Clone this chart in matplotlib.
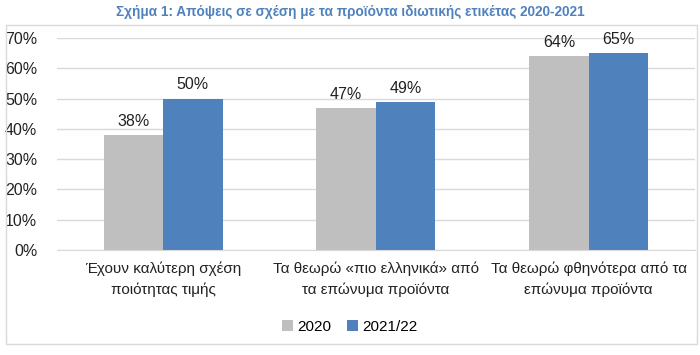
import numpy as np
import matplotlib.pyplot as plt

plt.rcParams['font.family'] = ['Liberation Sans', 'DejaVu Sans']

categories = ['Έχουν καλύτερη σχέση\nποιότητας τιμής',
              'Τα θεωρώ «πιο ελληνικά» από\nτα επώνυμα προϊόντα',
              'Τα θεωρώ φθηνότερα από τα\nεπώνυμα προϊόντα']
vals_2020 = [38, 47, 64]
vals_2122 = [50, 49, 65]
series_names = ['2020', '2021/22']
colors = ['#bfbfbf', '#4f81bd']

fig = plt.figure(figsize=(7, 3.55), dpi=100)
ax = fig.add_axes([0.081, 0.296, 0.912, 0.597])

x = np.arange(len(categories))
w = 0.28
b1 = ax.bar(x - w / 2, vals_2020, w, color=colors[0], label=series_names[0], zorder=2)
b2 = ax.bar(x + w / 2, vals_2122, w, color=colors[1], label=series_names[1], zorder=2)

for bars, vals in [(b1, vals_2020), (b2, vals_2122)]:
    for r, v in zip(bars, vals):
        ax.text(r.get_x() + r.get_width() / 2, v + 2, f'{v}%', ha='center', va='bottom',
                fontsize=11.5, color='#222222')

ax.set_xlim(-0.5, 2.5)
ax.set_ylim(0, 70)
ax.set_yticks(range(0, 71, 10))
ax.set_yticklabels([f'{t}%' for t in range(0, 71, 10)], fontsize=11.5, color='#222222')
ax.set_xticks(x)
ax.set_xticklabels(categories, fontsize=11, color='#222222', linespacing=1.6)
ax.tick_params(length=0, pad=14)
ax.tick_params(axis='x', pad=8)
ax.grid(axis='y', color='#d9d9d9', linewidth=1, zorder=0)
for s in ['top', 'right', 'left']:
    ax.spines[s].set_visible(False)
ax.spines['bottom'].set_color('#d9d9d9')

fig.legend(handles=[b1, b2], loc='center', bbox_to_anchor=(0.5, 0.08), ncol=2, frameon=False,
           fontsize=11, handlelength=0.7, handleheight=0.7, handletextpad=0.3, columnspacing=1.0)

fig.text(0.5, 0.965, 'Σχήμα 1: Απόψεις σε σχέση με τα προϊόντα ιδιωτικής ετικέτας 2020-2021',
         ha='center', va='center', fontsize=9.8, fontweight='bold', color='#4f81bd')

border = plt.Rectangle((0.008, 0.03), 0.988, 0.90, transform=fig.transFigure,
                       fill=False, edgecolor='#d9d9d9', linewidth=1)
fig.add_artist(border)

fig.savefig('out.png', dpi=100)
